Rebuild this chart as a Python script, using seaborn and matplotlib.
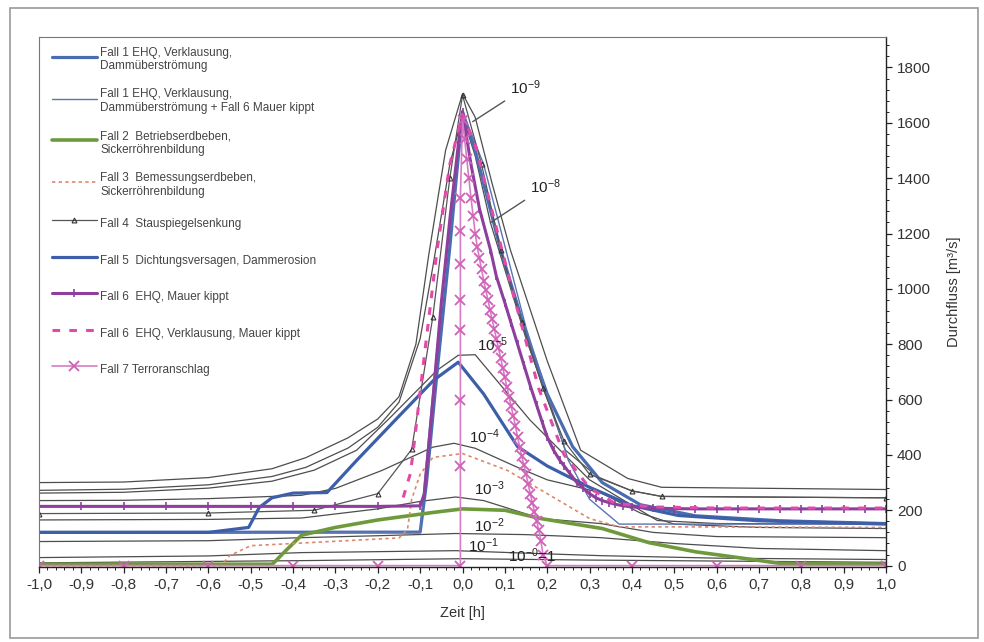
import matplotlib.pyplot as plt
import seaborn as sns
from matplotlib.ticker import MultipleLocator, FuncFormatter
from matplotlib.patches import Rectangle

# Hüllkurven (Überschreitungswahrscheinlichkeit)
zeit_e9 = [-1.0, -0.8, -0.6, -0.45, -0.37, -0.27, -0.2, -0.15, -0.11, -0.08, -0.04, 0.0, 0.03, 0.07, 0.113, 0.2, 0.279, 0.39, 0.47, 1.0]
q_e9 = [300, 302, 318, 350, 390, 462, 530, 610, 800, 1120, 1500, 1705, 1620, 1380, 1141, 740, 417, 315, 283, 275]
zeit_e8 = [-1.0, -0.8, -0.6, -0.45, -0.37, -0.27, -0.2, -0.15, -0.1, -0.07, -0.03, 0.0, 0.03, 0.066, 0.15, 0.243, 0.32, 0.4, 0.47, 1.0]
q_e8 = [272, 276, 292, 322, 355, 425, 500, 590, 820, 1080, 1450, 1625, 1480, 1239, 820, 417, 320, 270, 250, 245]
zeit_e5 = [-1.0, -0.8, -0.6, -0.45, -0.35, -0.25, -0.17, -0.06, -0.01, 0.03, 0.1, 0.16, 0.3, 0.46, 0.6, 1.0]
q_e5 = [262, 265, 280, 305, 345, 417, 536, 706, 760, 762, 634, 525, 310, 163, 152, 150]
zeit_e4 = [-1.0, -0.8, -0.6, -0.45, -0.38, -0.3, -0.19, -0.07, -0.02, 0.03, 0.13, 0.2, 0.326, 0.42, 0.5, 0.7, 1.0]
q_e4 = [235, 236, 242, 250, 254, 279, 344, 428, 442, 424, 355, 310, 264, 190, 150, 138, 134]
zeit_e3 = [-1.0, -0.6, -0.38, -0.2, -0.1, -0.016, 0.05, 0.185, 0.326, 0.45, 0.6, 1.0]
q_e3 = [165, 167, 172, 205, 232, 248, 235, 170, 152, 120, 105, 101]
zeit_e2 = [-1.0, -0.6, -0.38, -0.2, -0.016, 0.15, 0.326, 0.5, 0.7, 1.0]
q_e2 = [87, 90, 101, 108, 116, 112, 101, 80, 62, 54]
zeit_e1 = [-1.0, -0.6, -0.38, -0.016, 0.15, 0.326, 0.6, 1.0]
q_e1 = [29, 35, 47, 54, 45, 36, 27, 22]
zeit_e0 = [-1.0, -0.38, 0.0, 0.3, 1.0]
q_e0 = [10, 18, 25, 20, 12]

# Fälle
zeit_f1 = [-1.0, -0.1, -0.085, -0.06, -0.03, 0.0, 0.03, 0.09, 0.15, 0.2, 0.26, 0.33, 0.42, 0.55, 0.75, 1.0]
q_f1 = [120, 121, 300, 700, 1150, 1640, 1500, 1141, 840, 620, 430, 300, 220, 180, 162, 152]
zeit_f1b = [-1.0, -0.1, -0.09, -0.05, 0.0, 0.05, 0.15, 0.25, 0.3, 0.37, 0.5, 1.0]
q_f1b = [120, 120, 300, 950, 1640, 1450, 860, 380, 240, 150, 150, 150]
zeit_f2 = [-1.0, -0.45, -0.445, -0.42, -0.38, -0.3, -0.2, -0.07, 0.0, 0.1, 0.185, 0.33, 0.44, 0.55, 0.67, 0.75, 1.0]
q_f2 = [5, 5, 11, 50, 110, 138, 165, 192, 205, 200, 170, 134, 83, 50, 25, 8, 5]
zeit_f3 = [-1.0, -0.57, -0.55, -0.5, -0.3, -0.15, -0.13, -0.12, -0.1, -0.07, 0.0, 0.106, 0.2, 0.3, 0.37, 0.5, 1.0]
q_f3 = [0, 0, 36, 72, 88, 100, 130, 240, 330, 391, 405, 344, 260, 170, 140, 140, 138]
zeit_f4 = [-1.0, -0.6, -0.35, -0.2, -0.12, -0.07, -0.03, 0.0, 0.045, 0.09, 0.14, 0.19, 0.24, 0.3, 0.4, 0.47, 1.0]
q_f4 = [188, 190, 200, 260, 420, 900, 1400, 1700, 1450, 1141, 880, 640, 450, 330, 270, 250, 245]
zeit_f5 = [-1.0, -0.6, -0.505, -0.48, -0.45, -0.4, -0.32, -0.25, -0.15, -0.068, -0.01, 0.05, 0.13, 0.2, 0.3, 0.4, 0.51, 0.7, 1.0]
q_f5 = [120, 120, 138, 210, 245, 262, 264, 380, 540, 670, 735, 620, 430, 360, 283, 217, 181, 162, 150]
zeit_f6 = [-1.0, -0.9, -0.8, -0.7, -0.6, -0.5, -0.4, -0.3, -0.2, -0.1, -0.09, -0.07, -0.05, -0.03, -0.01, 0.0,
           0.02, 0.04, 0.066, 0.08, 0.1, 0.115, 0.13, 0.145, 0.16, 0.175, 0.19, 0.2, 0.215, 0.23, 0.24, 0.255,
           0.27, 0.285, 0.3, 0.315, 0.33, 0.345, 0.36, 0.38, 0.4, 0.45, 0.5, 0.55, 0.6, 0.65, 0.7, 0.75, 0.8,
           0.85, 0.9, 0.95, 1.0]
q_f6 = [214, 214, 214, 214, 214, 214, 214, 214, 214, 216, 260, 600, 950, 1250, 1520, 1640,
        1450, 1290, 1141, 1045, 950, 875, 800, 725, 650, 580, 510, 465, 417, 380, 360, 330,
        300, 280, 260, 245, 235, 228, 222, 216, 212, 208, 206, 205, 205, 205, 205, 205, 205,
        205, 205, 205, 205]
zeit_f6v = [-0.14, -0.123, -0.116, -0.09, -0.06, -0.03, 0.0, 0.03, 0.07, 0.12, 0.18, 0.24, 0.3, 0.36, 0.45, 0.6, 1.0]
q_f6v = [246, 333, 417, 760, 1141, 1450, 1630, 1520, 1280, 980, 640, 400, 280, 225, 212, 208, 208]
zeit_f7 = [-1.0, -0.8, -0.6, -0.4, -0.2, -0.005, -0.005, -0.005, -0.005, -0.005, -0.005, -0.005, -0.005,
           0.0, 0.005, 0.01, 0.015, 0.02, 0.025, 0.03, 0.035, 0.04, 0.045, 0.05, 0.055, 0.06, 0.065, 0.07,
           0.075, 0.08, 0.085, 0.09, 0.095, 0.1, 0.105, 0.11, 0.115, 0.12, 0.125, 0.13, 0.135, 0.14,
           0.145, 0.15, 0.155, 0.16, 0.165, 0.17, 0.175, 0.18, 0.185, 0.19, 0.2, 0.4, 0.6, 0.8, 1.0]
q_f7 = [0, 0, 0, 0, 0, 0, 360, 600, 850, 960, 1090, 1210, 1330,
        1610, 1540, 1470, 1400, 1330, 1265, 1200, 1150, 1110, 1070, 1030, 995, 960, 925, 890,
        855, 820, 785, 750, 715, 680, 645, 610, 575, 540, 505, 465, 430, 395,
        362, 330, 295, 260, 228, 195, 162, 130, 90, 40, 0, 0, 0, 0, 0]

labels = [
    "Fall 1 EHQ, Verklausung,\nDammüberströmung",
    "Fall 1 EHQ, Verklausung,\nDammüberströmung + Fall 6 Mauer kippt",
    "Fall 2  Betriebserdbeben,\nSickerröhrenbildung",
    "Fall 3  Bemessungserdbeben,\nSickerröhrenbildung",
    "Fall 4  Stauspiegelsenkung",
    "Fall 5  Dichtungsversagen, Dammerosion",
    "Fall 6  EHQ, Mauer kippt",
    "Fall 6  EHQ, Verklausung, Mauer kippt",
    "Fall 7 Terroranschlag",
]
huellen = [
    ("10$^{-9}$", (0.113, 1728), (0.024, 1604)),
    ("10$^{-8}$", (0.16, 1370), (0.066, 1239)),
    ("10$^{-5}$", (0.035, 797), None),
    ("10$^{-4}$", (0.016, 464), None),
    ("10$^{-3}$", (0.026, 279), None),
    ("10$^{-2}$", (0.026, 145), None),
    ("10$^{-1}$", (0.014, 72), None),
    ("10$^{-0}$=1", (0.108, 36), None),
]

sns.set_theme(style="white")
plt.rcParams['font.family'] = ['Liberation Sans', 'DejaVu Sans']
plt.rcParams['mathtext.fontset'] = 'custom'
plt.rcParams['mathtext.rm'] = 'Liberation Sans'
plt.rcParams['mathtext.it'] = 'Liberation Sans:italic'

fig = plt.figure(figsize=(9.84, 6.42), dpi=100)
ax = fig.add_axes([39 / 984, 1 - 567 / 642, 847 / 984, 530 / 642])


def draw(x, y, **kw):
    sns.lineplot(x=x, y=y, ax=ax, sort=False, estimator=None, **kw)


# Hüllkurven dünn grau
for zx, zq in [(zeit_e9, q_e9), (zeit_e8, q_e8), (zeit_e5, q_e5), (zeit_e4, q_e4),
               (zeit_e3, q_e3), (zeit_e2, q_e2), (zeit_e1, q_e1), (zeit_e0, q_e0)]:
    draw(zx, zq, color="#4d4d4d", linewidth=0.9)

draw(zeit_f1, q_f1, color="#4a6cb0", linewidth=2.3, label=labels[0])
draw(zeit_f1b, q_f1b, color="#5a74b4", linewidth=1.0, label=labels[1])
draw(zeit_f2, q_f2, color="#6e9a3c", linewidth=2.6, label=labels[2])
draw(zeit_f3, q_f3, color="#e0866a", linewidth=1.2, linestyle=(0, (2, 2)), label=labels[3])
draw(zeit_f4, q_f4, color="#555555", linewidth=0.9, marker="^", markersize=3.5,
     markerfacecolor="none", markeredgecolor="#333333", markeredgewidth=0.8, label=labels[4])
draw(zeit_f5, q_f5, color="#3d5ea8", linewidth=2.3, label=labels[5])
draw(zeit_f6, q_f6, color="#8e3f9e", linewidth=2.2, marker="|", markersize=6,
     markeredgecolor="#8e3f9e", markeredgewidth=1.2, label=labels[6])
draw(zeit_f6v, q_f6v, color="#e04aa8", linewidth=2.2, linestyle=(0, (2.5, 3)), label=labels[7])
draw(zeit_f7, q_f7, color="#d77cc4", linewidth=1.2, marker="x", markersize=6.5,
     markeredgecolor="#d060b8", markeredgewidth=1.3, label=labels[8])

# Beschriftung der Hüllkurven
for txt, pos, ziel in huellen:
    if ziel is None:
        ax.text(pos[0], pos[1], txt, fontsize=11, color="#222222", ha="left", va="center")
    else:
        ax.annotate(txt, xy=ziel, xytext=pos, fontsize=11, color="#222222", ha="left", va="center",
                    arrowprops=dict(arrowstyle="-", color="#555555", lw=1.0, shrinkA=2, shrinkB=0))

ax.set_xlim(-1.0, 1.0)
ax.set_ylim(-5, 1910)
ax.xaxis.set_major_locator(MultipleLocator(0.1))
ax.xaxis.set_minor_locator(MultipleLocator(0.02))
ax.xaxis.set_major_formatter(FuncFormatter(lambda v, p: f"{v:.1f}".replace(".", ",").replace("-0,0", "0,0")))
ax.yaxis.tick_right()
ax.yaxis.set_label_position("right")
ax.yaxis.set_major_locator(MultipleLocator(200))
ax.yaxis.set_minor_locator(MultipleLocator(40))
ax.tick_params(axis="both", which="major", labelsize=11, labelcolor="#333333", length=4,
               width=0.9, color="#222222", direction="out", pad=4)
ax.tick_params(axis="both", which="minor", length=2.5, width=0.7, color="#222222", direction="out")
ax.tick_params(axis="y", which="both", right=True, left=False)
ax.tick_params(axis="x", which="both", bottom=True)

ax.set_xlabel("Zeit [h]", fontsize=10.5, color="#333333", labelpad=10)
ax.set_ylabel("Durchfluss [m³/s]", fontsize=10.5, color="#333333")
ax.yaxis.set_label_coords(1.072, 0.52)

for side in ["left", "top"]:
    ax.spines[side].set_color("#777777")
    ax.spines[side].set_linewidth(0.8)
for side in ["right", "bottom"]:
    ax.spines[side].set_color("#222222")
    ax.spines[side].set_linewidth(1.0)

handles, names = ax.get_legend_handles_labels()
leg = ax.legend(handles, names, loc="upper left", bbox_to_anchor=(0.0153, 0.982), frameon=False,
                fontsize=8.5, handlelength=3.8, handletextpad=0.3, handleheight=2.3,
                labelspacing=1.35, borderpad=0, borderaxespad=0, numpoints=1)
for t in leg.get_texts():
    t.set_color("#444444")

fig.patches.append(Rectangle((10 / 984, 1 - 638 / 642), 968 / 984, 630 / 642, transform=fig.transFigure,
                             fill=False, edgecolor="#999999", linewidth=1.2))

fig.savefig("out.png", dpi=100)
